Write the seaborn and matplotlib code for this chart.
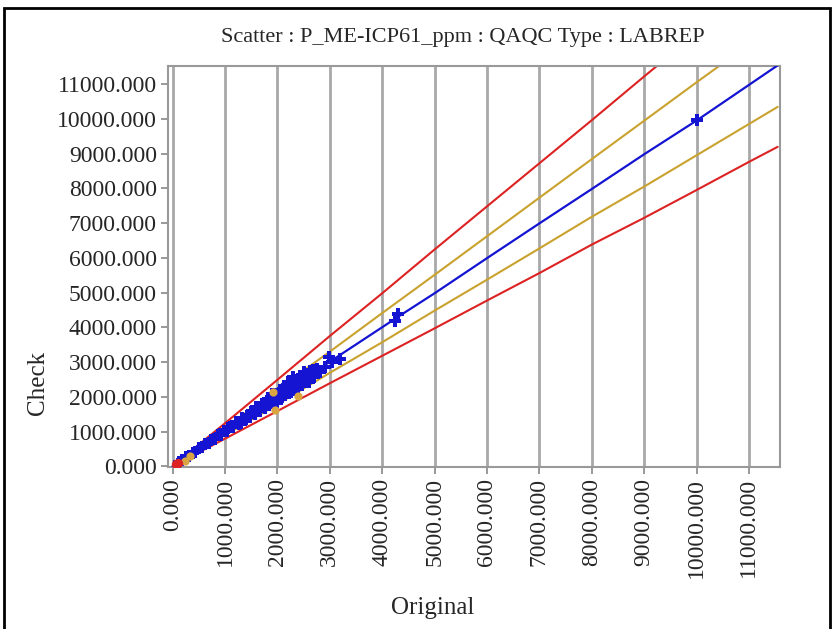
import numpy as np
import pandas as pd
import matplotlib
matplotlib.use("Agg")
import matplotlib.pyplot as plt
from matplotlib.patches import Rectangle
import seaborn as sns

# Dados
orig_blue = [120, 180, 250, 310, 380, 430, 500, 560, 620, 690, 740, 800, 860, 920, 980,
             1040, 1100, 1160, 1210, 1270, 1320, 1380, 1430, 1480, 1530, 1580, 1620, 1670,
             1710, 1760, 1800, 1840, 1880, 1920, 1960, 2000, 2040, 2080, 2110, 2150, 2190,
             2220, 2260, 2290, 2330, 2370, 2400, 2440, 2480, 2520, 2560, 2600, 2650, 2700,
             2760, 2820, 2900, 2980, 3050, 3200, 4250, 4300, 10000,
             1500, 1650, 1850, 1950, 2050, 2150, 2250, 2350, 2450, 2550, 2620, 1750, 1300,
             1050, 900, 2100, 2300, 2500, 2680,
             2200, 2400, 2600, 1900, 2000, 2300, 2700, 2500, 1600, 1400]
check_blue = [125, 170, 262, 300, 395, 418, 520, 545, 640, 668, 770, 780, 895, 890, 1020,
              1005, 1140, 1120, 1265, 1230, 1380, 1330, 1490, 1420, 1600, 1510, 1700, 1600,
              1790, 1680, 1890, 1760, 1970, 1830, 2060, 1920, 2150, 1990, 2230, 2060, 2300,
              2120, 2380, 2200, 2450, 2260, 2520, 2330, 2590, 2420, 2660, 2500, 2720, 2620,
              2790, 2700, 2850, 3140, 3000, 3080, 4180, 4390, 9960,
              1560, 1580, 1900, 2010, 2200, 2090, 2150, 2480, 2380, 2610, 2750, 1820, 1250,
              1090, 930, 2160, 2350, 2470, 2760,
              2430, 2230, 2420, 2080, 1830, 2560, 2560, 2720, 1720, 1360]

orig_orange = [230, 330, 1920, 1950, 2390]
check_orange = [150, 300, 2130, 1610, 2010]

orig_red = [60, 110]
check_red = [70, 90]

# linhas de referência
reg_x = [0, 500, 1000, 2000, 3000, 4300, 5000, 6000, 7000, 8000, 9000, 10000, 11550]
reg_y = [0, 495, 990, 1990, 3010, 4300, 4980, 5990, 6990, 7980, 8980, 9950, 11540]

gold_up_x = [0, 500, 1000, 2000, 3000, 4000, 5000, 6000, 7000, 8000, 9000, 10000, 10430]
gold_up_y = [0, 555, 1100, 2215, 3300, 4410, 5510, 6620, 7730, 8840, 9945, 11050, 11520]

gold_lo_x = [0, 500, 1000, 2000, 3000, 4000, 5000, 6000, 7000, 8000, 9000, 10000, 11000, 11550]
gold_lo_y = [0, 445, 895, 1785, 2690, 3570, 4480, 5370, 6270, 7180, 8050, 8950, 9850, 10345]

red_up_x = [0, 500, 1000, 2000, 3000, 4000, 5000, 6000, 7000, 8000, 9000, 9250]
red_up_y = [0, 625, 1240, 2490, 3750, 4980, 6240, 7480, 8720, 9960, 11220, 11530]

red_lo_x = [0, 500, 1000, 2000, 3000, 4000, 5000, 6000, 7000, 8000, 9000, 10000, 11000, 11550]
red_lo_y = [0, 400, 795, 1590, 2390, 3180, 3970, 4770, 5560, 6380, 7150, 7950, 8760, 9195]

ticks = list(range(0, 12000, 1000))

sns.set_theme(style="white")
plt.rcParams["font.family"] = ["Liberation Serif", "DejaVu Serif"]

fig = plt.figure(figsize=(8.34, 6.29), dpi=100)
ax = fig.add_axes([0.2014, 0.2576, 0.7336, 0.6374])

# grade vertical
for t in ticks:
    ax.axvline(t, color="#a8a8a8", lw=2, zorder=0)

RED = "#dc2222"
GOLD = "#c9a22e"
BLUE = "#1414d2"

sns.lineplot(x=red_up_x, y=red_up_y, sort=False, color=RED, lw=1.5, ax=ax, zorder=2)
sns.lineplot(x=red_lo_x, y=red_lo_y, sort=False, color=RED, lw=1.5, ax=ax, zorder=2)
sns.lineplot(x=gold_up_x, y=gold_up_y, sort=False, color=GOLD, lw=1.5, ax=ax, zorder=2)
sns.lineplot(x=gold_lo_x, y=gold_lo_y, sort=False, color=GOLD, lw=1.5, ax=ax, zorder=2)
sns.lineplot(x=reg_x, y=reg_y, sort=False, color=BLUE, lw=1.6, ax=ax, zorder=3)

sns.scatterplot(x=orig_blue, y=check_blue, marker="P", s=85, color=BLUE,
                linewidth=0, ax=ax, zorder=4)
sns.scatterplot(x=orig_orange, y=check_orange, marker="o", s=35, color="#d9a441",
                linewidth=0, ax=ax, zorder=5)
sns.scatterplot(x=orig_red, y=check_red, marker="o", s=45, color=RED,
                linewidth=0, ax=ax, zorder=5)

ax.set_xlim(-90, 11590)
ax.set_ylim(-20, 11520)
ax.set_xticks(ticks)
ax.set_yticks(ticks)
ax.set_xticklabels([f"{t:.3f}" for t in ticks], rotation=90)
ax.set_yticklabels([f"{t:.3f}" for t in ticks])
ax.tick_params(axis="both", labelsize=17, length=5, width=1.2, color="#888888",
               direction="out", bottom=True, left=True, pad=3)

for s in ax.spines.values():
    s.set_color("#999999")
    s.set_linewidth(1.5)

ax.set_xlabel("Original", fontsize=18)
ax.set_ylabel("Check", fontsize=18)
ax.xaxis.set_label_coords(0.433, -0.325)
ax.yaxis.set_label_coords(-0.195, 0.21)
ax.text(0.482, 1.072, "Scatter : P_ME-ICP61_ppm : QAQC Type : LABREP",
        transform=ax.transAxes, ha="center", va="center", fontsize=16)

# moldura preta em volta da figura
fig.patches.append(Rectangle((4 / 834, -0.01), 826 / 834, 1 - 8 / 629 + 0.01,
                             transform=fig.transFigure, fill=False,
                             edgecolor="black", lw=2))

fig.savefig("out.png", dpi=100)
